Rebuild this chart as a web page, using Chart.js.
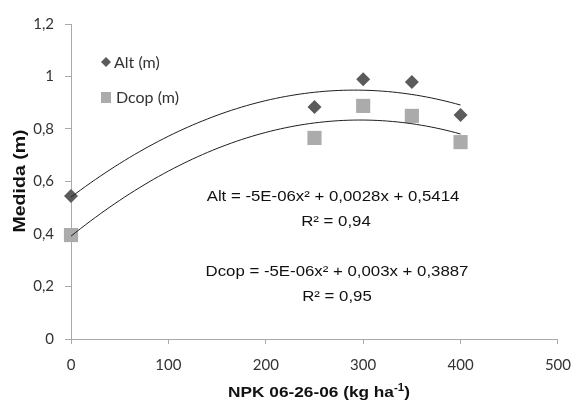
<!DOCTYPE html>
<html>
<head>
<meta charset="utf-8">
<script src="https://cdn.jsdelivr.net/npm/chart.js@4/dist/chart.umd.min.js"></script>
<style>
  html, body { margin: 0; padding: 0; background: #fff; }
</style>
</head>
<body>
<canvas id="npkChart" width="583" height="403"></canvas>
<script>
// ===============================
// Data
// ===============================
const doses = [0, 250, 300, 350, 400];            // NPK 06-26-06, kg/ha
const altValues = [0.545, 0.884, 0.99, 0.979, 0.853];
const dcopValues = [0.396, 0.766, 0.888, 0.85, 0.75];

const xTicks = [0, 100, 200, 300, 400, 500];
const yTicks = [0, 0.2, 0.4, 0.6, 0.8, 1, 1.2];

const altEquation = ["Alt = -5E-06x\u00B2 + 0,0028x + 0,5414", "R\u00B2 = 0,94"];
const dcopEquation = ["Dcop = -5E-06x\u00B2 + 0,003x + 0,3887", "R\u00B2 = 0,95"];

// ===============================
// Quadratic trend (least squares on the points, like Excel does)
// ===============================
function quadFit(xs, ys) {
  const s = [0, 0, 0, 0, 0], t = [0, 0, 0];
  xs.forEach((x, i) => {
    for (let k = 0; k < 5; k++) s[k] += Math.pow(x, k);
    for (let k = 0; k < 3; k++) t[k] += ys[i] * Math.pow(x, k);
  });
  const m = [[s[0], s[1], s[2]], [s[1], s[2], s[3]], [s[2], s[3], s[4]]];
  const det = a =>
    a[0][0] * (a[1][1] * a[2][2] - a[1][2] * a[2][1]) -
    a[0][1] * (a[1][0] * a[2][2] - a[1][2] * a[2][0]) +
    a[0][2] * (a[1][0] * a[2][1] - a[1][1] * a[2][0]);
  const d = det(m);
  return [0, 1, 2].map(c => {
    const mc = m.map((row, r) => row.map((v, j) => (j === c ? t[r] : v)));
    return det(mc) / d;
  });
}

function trendPoints(xs, ys) {
  const [c0, c1, c2] = quadFit(xs, ys);
  const pts = [];
  for (let x = xs[0]; x <= xs[xs.length - 1]; x += 5) {
    pts.push({ x, y: c0 + c1 * x + c2 * x * x });
  }
  return pts;
}

const fmtComma = v => String(v).replace(".", ",");

// ===============================
// Text drawn on top (legend, equations, axis titles)
// ===============================
function stretchedText(ctx, text, x, y, sx, font, color) {
  ctx.save();
  ctx.font = font;
  ctx.fillStyle = color;
  ctx.textAlign = "center";
  ctx.textBaseline = "middle";
  ctx.translate(x, y);
  ctx.scale(sx, 1);
  ctx.fillText(text, 0, 0);
  ctx.restore();
}

const annotations = {
  id: "annotations",
  afterDraw(chart) {
    const ctx = chart.ctx;

    // legend
    ctx.save();
    ctx.fillStyle = "#5b5b5b";
    ctx.beginPath();
    ctx.moveTo(106, 57); ctx.lineTo(111, 62); ctx.lineTo(106, 67); ctx.lineTo(101, 62);
    ctx.closePath();
    ctx.fill();
    ctx.fillStyle = "#ababab";
    ctx.fillRect(101, 92, 10, 11);
    ctx.fillStyle = "#333";
    ctx.font = "16px Lato";
    ctx.textAlign = "left";
    ctx.textBaseline = "middle";
    ctx.fillText("Alt (m)", 114, 63);
    ctx.fillText("Dcop (m)", 116, 98);
    ctx.restore();

    // equations
    const eqFont = "15px 'Liberation Sans'";
    stretchedText(ctx, altEquation[0], 333, 197, 1.12, eqFont, "#111");
    stretchedText(ctx, altEquation[1], 336, 222, 1.12, eqFont, "#111");
    stretchedText(ctx, dcopEquation[0], 337, 272, 1.12, eqFont, "#111");
    stretchedText(ctx, dcopEquation[1], 337, 297, 1.12, eqFont, "#111");

    // y title
    ctx.save();
    ctx.translate(20, 181);
    ctx.rotate(-Math.PI / 2);
    ctx.scale(1.15, 1);
    ctx.font = "bold 17px 'Liberation Sans'";
    ctx.fillStyle = "#111";
    ctx.textAlign = "center";
    ctx.textBaseline = "middle";
    ctx.fillText("Medida (m)", 0, 0);
    ctx.restore();

    // x title with superscript
    ctx.save();
    ctx.fillStyle = "#111";
    ctx.textBaseline = "alphabetic";
    const mainFont = "bold 15px 'Liberation Sans'";
    const supFont = "bold 10px 'Liberation Sans'";
    const partA = "NPK 06-26-06 (kg ha", partSup = "-1", partB = ")";
    ctx.font = mainFont;
    const wA = ctx.measureText(partA).width, wB = ctx.measureText(partB).width;
    ctx.font = supFont;
    const wS = ctx.measureText(partSup).width;
    const sx = 1.15;
    const total = (wA + wS + wB) * sx;
    ctx.translate(319 - total / 2, 397);
    ctx.scale(sx, 1);
    ctx.font = mainFont;
    ctx.fillText(partA, 0, 0);
    ctx.font = supFont;
    ctx.fillText(partSup, wA, -6);
    ctx.font = mainFont;
    ctx.fillText(partB, wA + wS, 0);
    ctx.restore();
  }
};

// ===============================
// Chart
// ===============================
new Chart(document.getElementById("npkChart"), {
  type: "scatter",
  data: {
    datasets: [
      {
        label: "Alt trend",
        type: "line",
        data: trendPoints(doses, altValues),
        borderColor: "#1e1e1e",
        borderWidth: 1,
        pointRadius: 0,
        fill: false,
        clip: false,
        order: 0
      },
      {
        label: "Dcop trend",
        type: "line",
        data: trendPoints(doses, dcopValues),
        borderColor: "#1e1e1e",
        borderWidth: 1,
        pointRadius: 0,
        fill: false,
        clip: false,
        order: 0
      },
      {
        label: "Alt (m)",
        data: doses.map((x, i) => ({ x, y: altValues[i] })),
        pointStyle: "rectRot",
        pointRadius: 7,
        backgroundColor: "#5b5b5b",
        borderWidth: 0,
        clip: false,
        order: 1
      },
      {
        label: "Dcop (m)",
        data: doses.map((x, i) => ({ x, y: dcopValues[i] })),
        pointStyle: "rect",
        pointRadius: 10,
        backgroundColor: "#ababab",
        borderWidth: 0,
        clip: false,
        order: 1
      }
    ]
  },
  options: {
    responsive: false,
    animation: false,
    layout: { padding: { top: 24, right: 15, left: 0, bottom: 0 } },
    plugins: {
      legend: { display: false },
      tooltip: { enabled: false }
    },
    scales: {
      x: {
        type: "linear",
        min: 0,
        max: 500,
        afterBuildTicks: s => { s.ticks = xTicks.map(v => ({ value: v })); },
        afterFit: s => { s.height = 64; },
        grid: { drawOnChartArea: false, color: "#aaaaaa", tickLength: 5 },
        border: { color: "#aaaaaa" },
        ticks: {
          font: { family: "Lato", size: 15 },
          color: "#333",
          padding: 12,
          callback: v => fmtComma(v)
        }
      },
      y: {
        min: 0,
        max: 1.2,
        afterBuildTicks: s => { s.ticks = yTicks.map(v => ({ value: v })); },
        afterFit: s => { s.width = 71; },
        grid: { drawOnChartArea: false, color: "#aaaaaa", tickLength: 6 },
        border: { color: "#aaaaaa" },
        ticks: {
          font: { family: "Lato", size: 15 },
          color: "#333",
          padding: 11,
          callback: v => fmtComma(v)
        }
      }
    }
  },
  plugins: [annotations]
});
</script>
</body>
</html>
